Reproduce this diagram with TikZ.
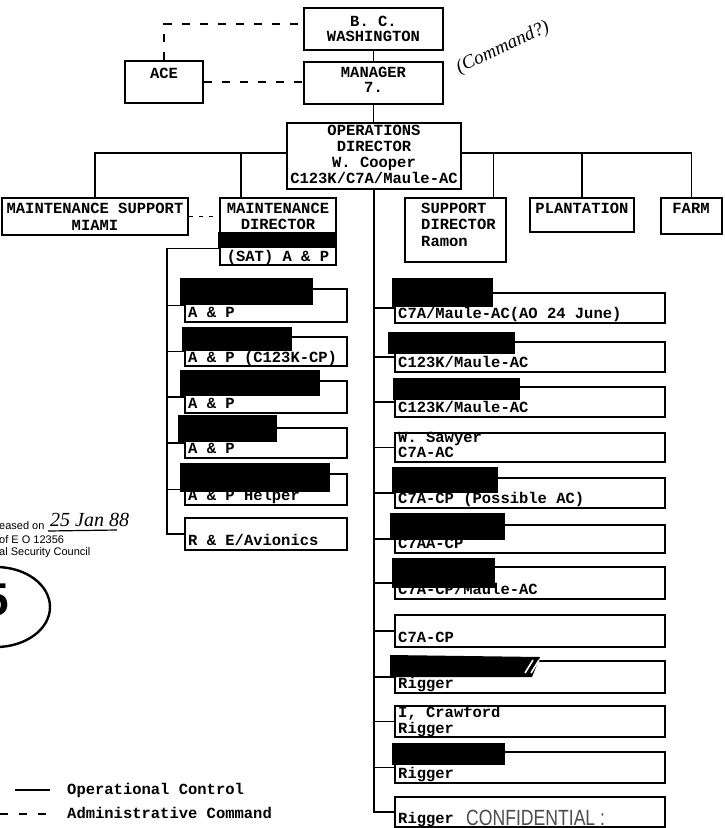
\documentclass[tikz,border=0pt]{standalone}
\usepackage{fontspec}
\setmainfont{Liberation Serif}
\setmonofont{Liberation Mono}
\newfontfamily\stampfont{Liberation Sans}
\newfontfamily\confont[FakeStretch=0.8]{Liberation Sans}
\newcommand\tw{\ttfamily\bfseries\fontsize{15.5pt}{16pt}\selectfont}
\newcommand\mkbox[5]{%
  \pgfmathsetmacro\bxw{#4-#2}\pgfmathsetmacro\bxh{#5-#3}%
  \pgfmathsetmacro\bxx{(#2+#4)/2}\pgfmathsetmacro\bxy{(#3+#5)/2}%
  \node[box, minimum width=\bxw pt, minimum height=\bxh pt] (#1) at (\bxx,\bxy) {};}
\begin{document}
\begin{tikzpicture}[x=1pt,y=-1pt,
  box/.style={draw, line width=1.8pt, inner sep=0pt, rectangle},
  tl/.style={font=\tw, inner sep=0pt, anchor=base west},
  tc/.style={font=\tw, inner sep=0pt, anchor=base},
  conn/.style={line width=1.6pt},
  admin/.style={line width=1.6pt, dash pattern=on 8pt off 10pt},
  redact/.style={fill=black},
  hand/.style={font=\itshape\fontsize{19pt}{19pt}\selectfont, inner sep=0pt},
  stamp/.style={font=\stampfont\fontsize{11pt}{11pt}\selectfont, inner sep=0pt, anchor=base west},
]
\useasboundingbox (0,0) rectangle (725,828);

% ---------- top ----------
\mkbox{wash}{304}{8}{443}{50}
\mkbox{mgr}{304}{62}{443}{104}
\mkbox{ace}{125}{61}{203}{103}
\mkbox{ops}{287}{123}{461}{189}
\node[tc] (washt1) at (373.5,26) {B. C.};
\node[tc] (washt2) at (373.5,41) {WASHINGTON};
\node[tc] (mgrt1) at (373.5,77) {MANAGER};
\node[tc] (mgrt2) at (373.5,92) {7.};
\node[tc] (acet) at (164,78) {ACE};
\node[tc] (opst1) at (374,135) {OPERATIONS};
\node[tc] (opst2) at (374,151) {DIRECTOR};
\node[tc] (opst3) at (374,167) {W. Cooper};
\node[tc] (opst4) at (374,183) {C123K/C7A/Maule-AC};
\node[hand, rotate=25] (cmd) at (503,48) {(Command?)};

\draw[conn] (wash.south) -- (mgr.north);
\draw[conn] (mgr.south) -- (mgr.south |- ops.north);
\draw[admin] (ace.north) |- ([yshift=5pt]wash.west);
\draw[admin] (ace.east) -- (ace.east -| mgr.west);

% ---------- second row ----------
\mkbox{ms}{2}{198}{188}{235}
\mkbox{md}{220}{198}{336}{265}
\mkbox{sd}{405}{198}{506}{262}
\mkbox{plant}{530}{198}{634}{232}
\mkbox{farm}{661}{198}{722}{234}
\node[tc] (mst1) at (95,213) {MAINTENANCE SUPPORT};
\node[tc] (mst2) at (95,230) {MIAMI};
\node[tc] (mdt1) at (278,213) {MAINTENANCE};
\node[tc] (mdt2) at (278,229) {DIRECTOR};
\node[tc] (mdt3) at (278,261) {(SAT) A \& P};
\node[tl] (sdt1) at (421,213) {SUPPORT};
\node[tl] (sdt2) at (421,229) {DIRECTOR};
\node[tl] (sdt3) at (421,246) {Ramon};
\node[tc] (plantt) at (582,213) {PLANTATION};
\node[tc] (farmt) at (691,213) {FARM};
\fill[redact] (218,232) rectangle (337,248);

\draw[conn] (ms.north) |- ([yshift=3pt]ops.west);
\draw[conn] ([xshift=-37pt]md.north) -- ++(0,-45);
\draw[conn] (farm.north) |- ([yshift=3pt]ops.east);
\draw[conn] ([xshift=38pt]sd.north) -- ++(0,-45);
\draw[conn] (plant.north) -- ++(0,-45);
\draw[line width=1.6pt, dash pattern=on 4pt off 6pt] (ms.east) -- (ms.east -| md.west);

% ---------- left column ----------
\coordinate (lsp) at (167,248);
\mkbox{lc1}{185}{289}{347}{322}
\mkbox{lc2}{185}{337}{347}{366}
\mkbox{lc3}{185}{381}{347}{413}
\mkbox{lc4}{185}{428}{347}{458}
\mkbox{lc5}{185}{474}{347}{505}
\mkbox{lc6}{185}{518}{347}{550}
\draw[conn] ([yshift=-17pt]md.west) -| (lsp |- lc6.west) -- (lc6.west);
\foreach \c in {lc1,lc2,lc3,lc4,lc5} \draw[conn] (\c.west) -- (\c.west -| lsp);
\node[tl] (lt1) at (188,317.5) {A \& P};
\node[tl] (lt2) at (188,362) {A \& P (C123K-CP)};
\node[tl] (lt3) at (188,408.5) {A \& P};
\node[tl] (lt4) at (188,453.5) {A \& P};
\node[tl] (lt5) at (188,500.5) {A \& P Helper};
\node[tl] (lt6) at (188,545.5) {R \& E/Avionics};
\fill[redact] (180,278) rectangle (313,305);
\fill[redact] (182,327) rectangle (292,351);
\fill[redact] (180,370) rectangle (320,396);
\fill[redact] (178,415) rectangle (277,442);
\fill[redact] (180,463) rectangle (330,492);

% ---------- right column ----------
\mkbox{rc1}{395}{293}{665}{323}
\mkbox{rc2}{395}{342}{665}{372}
\mkbox{rc3}{395}{387}{665}{417}
\mkbox{rc4}{395}{433}{665}{462}
\mkbox{rc5}{395}{478}{665}{508}
\mkbox{rc6}{395}{525}{665}{553}
\mkbox{rc7}{395}{567}{665}{599}
\mkbox{rc8}{395}{615}{665}{647}
\mkbox{rc9}{395}{661}{665}{693}
\mkbox{rc10}{395}{706}{665}{737}
\mkbox{rc11}{395}{752}{665}{783}
\mkbox{rc12}{395}{797}{665}{827}
\draw[conn] (ops.south) -- (ops.south |- rc12.west) -- (rc12.west);
\foreach \c in {rc1,rc2,rc3,rc4,rc5,rc6,rc7,rc8,rc9,rc10,rc11} \draw[conn] (\c.west) -- (\c.west -| ops.south);
\node[tl] (rt1) at (398,318.5) {C7A/Maule-AC(AO 24 June)};
\node[tl] (rt2) at (398,367.5) {C123K/Maule-AC};
\node[tl] (rt3) at (398,412.5) {C123K/Maule-AC};
\node[tl] (rt4a) at (398,442.5) {W. Sawyer};
\node[tl] (rt4b) at (398,457.5) {C7A-AC};
\node[tl] (rt5) at (398,503.5) {C7A-CP (Possible AC)};
\node[tl] (rt6) at (398,548.5) {C7AA-CP};
\node[tl] (rt7) at (398,594.5) {C7A-CP/Maule-AC};
\node[tl] (rt8) at (398,642.5) {C7A-CP};
\node[tl] (rt9) at (398,688.5) {Rigger};
\node[tl] (rt10a) at (398,717.5) {I, Crawford};
\node[tl] (rt10b) at (398,733.5) {Rigger};
\node[tl] (rt11) at (398,778.5) {Rigger};
\node[tl] (rt12) at (398,823) {Rigger};
\fill[redact] (392,278) rectangle (493,307);
\fill[redact] (388,332) rectangle (515,354);
\fill[redact] (393,378) rectangle (520,400);
\fill[redact] (392,467) rectangle (498,493);
\fill[redact] (390,513) rectangle (505,540);
\fill[redact] (392,558) rectangle (495,588);
\fill[redact] (390,655) -- (540,657) -- (532,677) -- (390,677) -- cycle;
\draw[white, line width=1.6pt] (525,673) -- (533,660) (531,673) -- (539,660);
\fill[redact] (392,743) rectangle (505,765);
\node[font=\confont\fontsize{22pt}{22pt}\selectfont, text=black!70, inner sep=0pt, anchor=base west] (conf) at (466,825) {CONFIDENTIAL :};

% ---------- stamp ----------
\node[stamp] (st1) at (-1,529) {eased on};
\node[hand, anchor=base west, font=\itshape\fontsize{20pt}{20pt}\selectfont] (st2) at (50,526) {25 Jan 88};
\coordinate (ul1) at (48,531);
\coordinate (ul2) at (117,530);
\draw[line width=1.2pt] (ul1) -- (ul2);
\node[stamp] (st3) at (-1,543) {of E O  12356};
\node[stamp] (st4) at (-1,555) {al Security Council};
\draw[line width=2.4pt] (-4,607) ellipse [x radius=54, y radius=40];
\node[font=\stampfont\bfseries\fontsize{46pt}{46pt}\selectfont, inner sep=0pt] (five) at (-4,600) {5};

% ---------- legend ----------
\coordinate (lga) at (15,790);
\coordinate (lgb) at (50,790);
\draw[conn] (lga) -- (lgb);
\node[tl] (lgt1) at (67,794) {Operational Control};
\coordinate (lgc) at (0,814);
\coordinate (lgd) at (47,814);
\draw[line width=1.6pt, dash pattern=on 8pt off 11pt] (lgc) -- (lgd);
\node[tl] (lgt2) at (67,818) {Administrative Command};
\end{tikzpicture}
\end{document}
